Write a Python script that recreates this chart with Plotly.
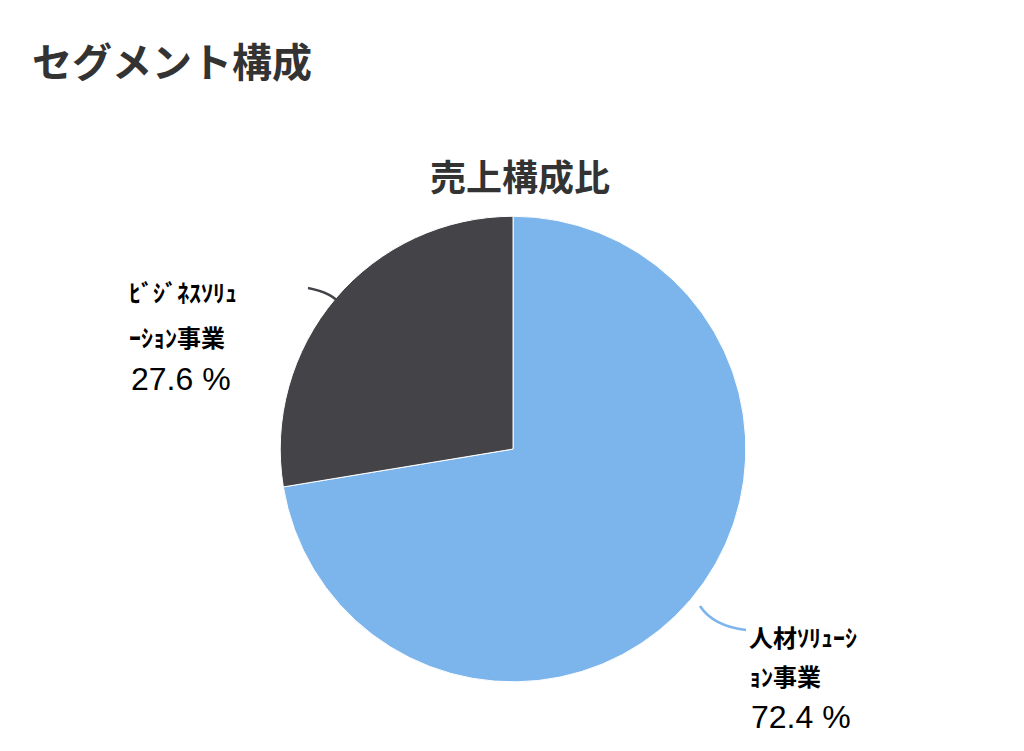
import plotly.graph_objects as go

labels = ["人材ｿﾘｭｰｼｮﾝ事業", "ﾋﾞｼﾞﾈｽｿﾘｭｰｼｮﾝ事業"]
values = [72.4, 27.6]
colors = ["#7cb5ec", "#434348"]

fig = go.Figure(go.Pie(
    labels=labels, values=values, sort=False, direction="clockwise", rotation=0,
    marker=dict(colors=colors, line=dict(color="white", width=1)),
    textinfo="none", hoverinfo="label+percent", showlegend=False,
    domain=dict(x=[0.2657, 0.7207], y=[0.1027, 0.7227]),
))

F = "Noto Sans CJK JP"
def ann(text, x, y, size, bold=True, fam=F):
    t = f"<b>{text}</b>" if bold else text
    return dict(text=t, x=x/1024, y=1-y/751, xref="paper", yref="paper",
                xanchor="left", yanchor="middle", showarrow=False,
                font=dict(family=fam, size=size, color="#000"))

fig.update_layout(
    width=1024, height=751, margin=dict(l=0, r=0, t=0, b=0),
    paper_bgcolor="white", plot_bgcolor="white",
    annotations=[
        dict(text="<b>セグメント構成</b>", x=22/1024, y=1-52/751, xref="paper", yref="paper",
             xanchor="left", yanchor="middle", showarrow=False, font=dict(family=F, size=40, color="#333")),
        dict(text="<b>売上構成比</b>", x=0.5, y=1-167/751, xref="paper", yref="paper",
             xanchor="center", yanchor="middle", showarrow=False, font=dict(family=F, size=36, color="#333")),
        ann("ﾋﾞｼﾞﾈｽｿﾘｭ", 119, 283, 24),
        ann("ｰｼｮﾝ事業", 119, 328, 24),
        ann("27.6 %", 121, 371, 32, bold=False, fam="Liberation Sans"),
        ann("人材ｿﾘｭｰｼ", 739, 628, 24),
        ann("ｮﾝ事業", 739, 667, 24),
        ann("72.4 %", 741, 709, 32, bold=False, fam="Liberation Sans"),
    ],
    shapes=[
        dict(type="path", xref="paper", yref="paper",
             path=f"M {300/1024},{1-280/751} Q {325/1024},{1-285/751} {333/1024},{1-297/751}",
             line=dict(color="#434348", width=2.5)),
        dict(type="path", xref="paper", yref="paper",
             path=f"M {692/1024},{1-598/751} Q {705/1024},{1-618/751} {738/1024},{1-622/751}",
             line=dict(color="#7cb5ec", width=2.5)),
    ],
)
fig.write_html("out.html")
